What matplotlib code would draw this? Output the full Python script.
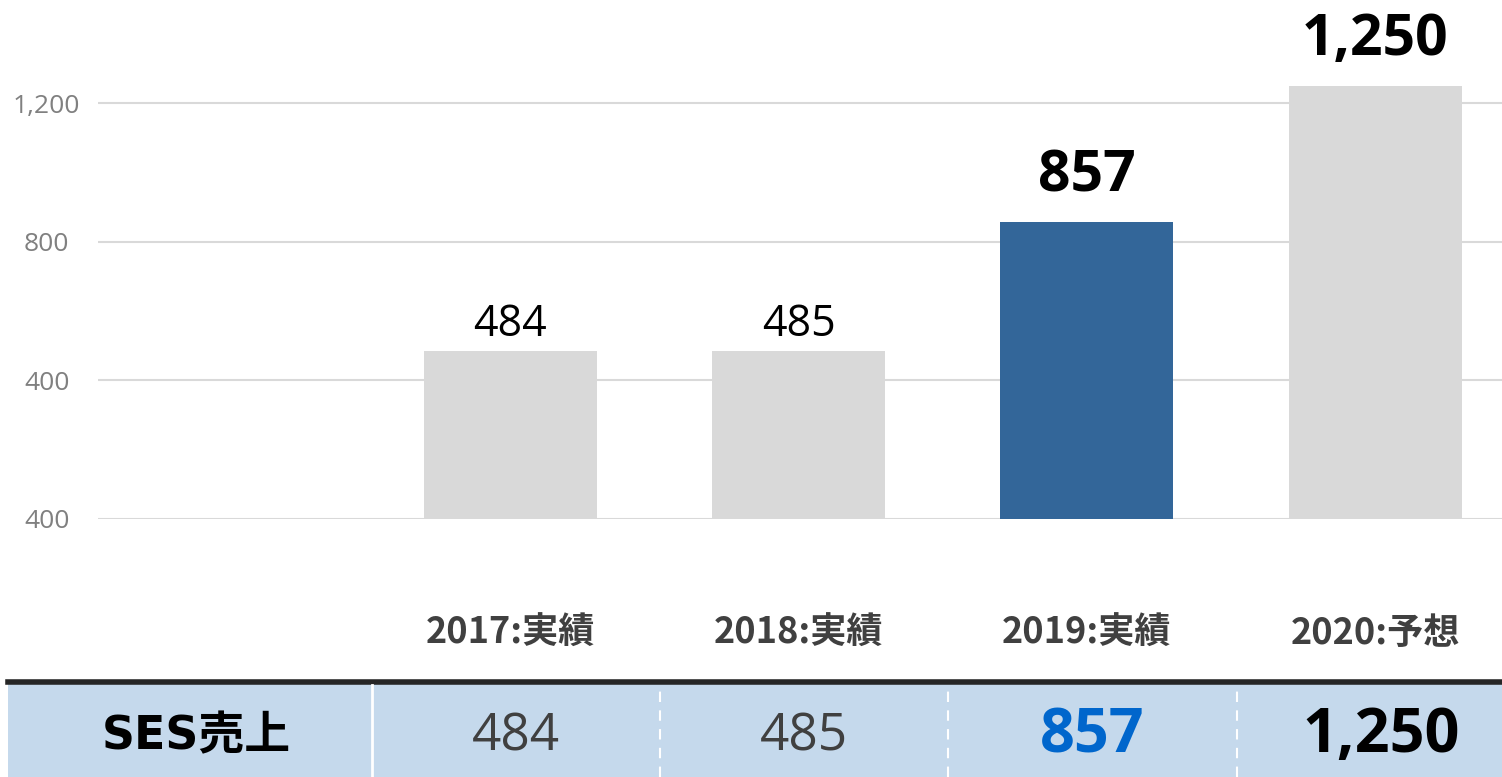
import matplotlib.pyplot as plt
from matplotlib import transforms
from matplotlib.patches import Rectangle

# data
categories = ["2017:実績", "2018:実績", "2019:実績", "2020:予想"]
sales = [484, 485, 857, 1250]
bar_colors = ["#D9D9D9", "#D9D9D9", "#336699", "#D9D9D9"]
ytick_values = [0, 400, 800, 1200]
ytick_labels = ["400", "400", "800", "1,200"]
row_title = "SES売上"

plt.rcParams["font.family"] = ["Open Sans", "Noto Sans CJK JP", "DejaVu Sans"]

W, H = 1502, 777
fig = plt.figure(figsize=(W / 100, H / 100), dpi=100)

# axes: left edge at 98px, baseline at 519px, top at figure top
ax = fig.add_axes([98 / W, (H - 519) / H, 1 - 98 / W, 519 / H])
x = list(range(len(categories)))
ax.bar(x, sales, width=0.6, color=bar_colors, zorder=2)
ax.set_xlim(-1.43, 3.44)
ax.set_ylim(0, 519 / (416 / 1200))

ax.set_yticks(ytick_values)
ax.set_yticklabels(ytick_labels, color="#808080", fontsize=19, ha="center")
ax.tick_params(axis="y", length=0, pad=37)
ax.grid(axis="y", color="#D9D9D9", linewidth=1.5, zorder=0)
ax.set_xticks(x)
ax.set_xticklabels(categories, color="#404040", fontsize=26, fontweight="bold",
                   family=["Noto Sans CJK JP"])
ax.tick_params(axis="x", length=0, pad=69)
for s in ax.spines.values():
    s.set_visible(False)

# value labels above bars
for i, v in enumerate(sales):
    big = i >= 2
    ax.annotate(f"{v:,}", (i, v), xytext=(0, 12 if big else 3), textcoords="offset points",
                ha="center", va="bottom", fontsize=41 if big else 31,
                fontweight="bold" if big else "normal", color="black")

# table row at the bottom
tr = transforms.blended_transform_factory(ax.transData, fig.transFigure)
fig.patches.append(Rectangle((8 / W, 0), 1, (H - 684) / H, transform=fig.transFigure,
                             facecolor="#C5D9EC", edgecolor="none", zorder=0))
fig.add_artist(plt.Line2D([8 / W, 1], [(H - 682) / H] * 2, transform=fig.transFigure,
                          color="#262626", linewidth=4))
fig.add_artist(plt.Line2D([-0.48, -0.48], [0, (H - 685) / H], transform=tr,
                          color="white", linewidth=2))
for i in range(1, len(categories)):
    fig.add_artist(plt.Line2D([i - 0.48, i - 0.48], [0, (H - 685) / H], transform=tr,
                              color="white", linewidth=1.5, linestyle=(0, (5, 4))))

ty = (H - 737) / H
fig.text(196 / W, ty, row_title, ha="center", va="center", fontsize=33, fontweight="bold",
         color="black", family=["DejaVu Sans", "Noto Sans CJK JP"])
cell_colors = ["#404040", "#404040", "#0066CC", "black"]
for i, v in enumerate(sales):
    bold = i >= 2
    fig.text(i + 0.02, ty, f"{v:,}", transform=tr, ha="center", va="center",
             fontsize=44 if bold else 37,
             fontweight="bold" if bold else "normal", color=cell_colors[i])

fig.savefig("out.png", dpi=100)
